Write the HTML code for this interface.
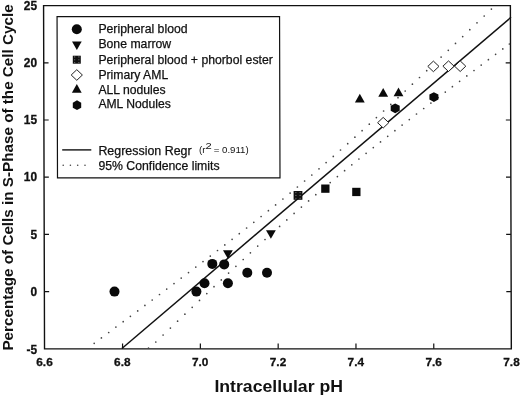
<!DOCTYPE html>
<html><head><meta charset="utf-8"><title>Intracellular pH vs S-Phase</title>
<style>html,body{margin:0;padding:0;background:#fff}svg{display:block}text{font-family:"Liberation Sans",Arial,sans-serif;fill:#111}.b{font-weight:bold}</style></head><body>
<svg width="520" height="397" viewBox="0 0 520 397">
<rect width="520" height="397" fill="#fff"/>
<g transform="matrix(1 0 0.00277 1 -0.49 0)">
<rect x="44.05" y="5.65" width="466.8" height="343.2" fill="none" stroke="#111" stroke-width="1.4"/>
<path d="M44.05 62.8h4.8M510.8 62.8h-4.8M44.05 120.0h4.8M510.8 120.0h-4.8M44.05 177.2h4.8M510.8 177.2h-4.8M44.05 234.4h4.8M510.8 234.4h-4.8M44.05 291.6h4.8M510.8 291.6h-4.8M122.1 348.8v-5.2M199.9 348.8v-5.2M277.7 348.8v-5.2M355.5 348.8v-5.2M433.3 348.8v-5.2" stroke="#111" stroke-width="1.2" fill="none"/>
<rect x="57.5" y="16.7" width="222.5" height="161.1" fill="#fff" stroke="#111" stroke-width="1.2"/>
</g>
<text class="b" x="37.1" y="9.8" font-size="11.9" stroke="#111" stroke-width="0.3" text-anchor="end">25</text>
<text class="b" x="37.1" y="67.0" font-size="11.9" stroke="#111" stroke-width="0.3" text-anchor="end">20</text>
<text class="b" x="37.1" y="124.2" font-size="11.9" stroke="#111" stroke-width="0.3" text-anchor="end">15</text>
<text class="b" x="37.1" y="181.4" font-size="11.9" stroke="#111" stroke-width="0.3" text-anchor="end">10</text>
<text class="b" x="37.1" y="238.6" font-size="11.9" stroke="#111" stroke-width="0.3" text-anchor="end">5</text>
<text class="b" x="37.1" y="295.8" font-size="11.9" stroke="#111" stroke-width="0.3" text-anchor="end">0</text>
<text class="b" x="37.1" y="353.7" font-size="11.9" stroke="#111" stroke-width="0.3" text-anchor="end">-5</text>
<text class="b" x="44.5" y="366.4" font-size="11.8" stroke="#111" stroke-width="0.3" text-anchor="middle">6.6</text>
<text class="b" x="122.3" y="366.4" font-size="11.8" stroke="#111" stroke-width="0.3" text-anchor="middle">6.8</text>
<text class="b" x="200.2" y="366.4" font-size="11.8" stroke="#111" stroke-width="0.3" text-anchor="middle">7.0</text>
<text class="b" x="278.0" y="366.4" font-size="11.8" stroke="#111" stroke-width="0.3" text-anchor="middle">7.2</text>
<text class="b" x="355.8" y="366.4" font-size="11.8" stroke="#111" stroke-width="0.3" text-anchor="middle">7.4</text>
<text class="b" x="433.6" y="366.4" font-size="11.8" stroke="#111" stroke-width="0.3" text-anchor="middle">7.6</text>
<text class="b" x="511.5" y="366.4" font-size="11.8" stroke="#111" stroke-width="0.3" text-anchor="middle">7.8</text>
<text class="b" x="214.4" y="392.3" font-size="16.2" textLength="128.6" lengthAdjust="spacingAndGlyphs">Intracellular pH</text>
<text class="b" transform="translate(12.6 350.6) rotate(-90)" font-size="15.1" textLength="346.3" lengthAdjust="spacingAndGlyphs">Percentage of Cells in S-Phase of the Cell Cycle</text>
<line x1="121.9" y1="348.5" x2="511" y2="17.3" stroke="#111" stroke-width="1.5"/>
<path d="M94.2 343.3h0M101.4 337.9h0M108.7 332.5h0M115.9 327.1h0M123.2 321.7h0M130.4 316.3h0M137.7 310.9h0M144.9 305.4h0M152.2 300.0h0M159.5 294.5h0M166.7 289.1h0M174.0 283.6h0M181.2 278.1h0M188.5 272.6h0M195.8 267.1h0M203.0 261.6h0M210.3 256.1h0M217.5 250.5h0M224.8 244.9h0M232.1 239.3h0M239.3 233.7h0M246.6 228.0h0M253.8 222.3h0M261.1 216.5h0M268.4 210.7h0M275.6 204.9h0M282.9 199.0h0M290.1 193.1h0M297.4 187.0h0M304.6 181.0h0M311.8 175.0h0M319.0 168.8h0M326.1 162.6h0M333.3 156.4h0M340.5 150.0h0M347.7 143.7h0M354.9 137.2h0M362.1 130.7h0M369.3 124.2h0M376.4 117.6h0M383.6 111.0h0M390.8 104.4h0M398.0 97.7h0M405.2 91.0h0M412.4 84.2h0M419.5 77.5h0M426.7 70.7h0M433.9 63.9h0M441.1 57.1h0M448.3 50.3h0M455.5 43.4h0M462.7 36.6h0M469.8 29.7h0M477.0 22.8h0M484.2 16.0h0M491.4 9.1h0M148.5 348.2h0M155.8 342.0h0M163.1 335.0h0M170.4 328.1h0M177.6 321.2h0M184.9 314.2h0M192.2 307.3h0M199.5 300.4h0M206.8 293.6h0M214.0 286.7h0M221.3 279.9h0M228.6 273.1h0M235.9 266.3h0M243.2 259.5h0M250.4 252.8h0M257.7 246.1h0M265.0 239.5h0M272.3 232.9h0M279.6 226.4h0M286.8 219.9h0M294.1 213.4h0M301.4 207.1h0M308.6 200.9h0M315.8 194.7h0M323.0 188.6h0M330.2 182.6h0M337.4 176.6h0M344.6 170.7h0M351.8 164.8h0M358.9 159.0h0M366.1 153.3h0M373.3 147.6h0M380.5 141.9h0M387.7 136.3h0M394.9 130.7h0M402.1 125.1h0M409.3 119.6h0M416.5 114.0h0M423.7 108.5h0M430.9 103.1h0M438.1 97.6h0M445.3 92.1h0M452.4 86.7h0M459.6 81.3h0M466.8 75.9h0M474.0 70.5h0M481.2 65.1h0M488.4 59.7h0M495.6 54.3h0M502.8 48.9h0M509.4 44.0h0" stroke="#444" stroke-width="1.7" stroke-linecap="round" fill="none"/>
<circle cx="114.5" cy="291.6" r="5.0" fill="#0a0a0a"/>
<circle cx="196.4" cy="291.6" r="5.0" fill="#0a0a0a"/>
<circle cx="204.5" cy="283.3" r="5.0" fill="#0a0a0a"/>
<circle cx="212.3" cy="263.9" r="5.0" fill="#0a0a0a"/>
<circle cx="224.2" cy="264.4" r="5.0" fill="#0a0a0a"/>
<circle cx="227.9" cy="283.3" r="5.0" fill="#0a0a0a"/>
<circle cx="247.3" cy="272.7" r="5.0" fill="#0a0a0a"/>
<circle cx="267.0" cy="272.7" r="5.0" fill="#0a0a0a"/>
<path d="M223.0 250.3h9.8l-4.9 8.5z" fill="#0a0a0a"/>
<path d="M266.0 230.2h9.8l-4.9 8.5z" fill="#0a0a0a"/>
<rect x="293.6" y="191.0" width="8.8" height="8.8" fill="#111"/><path d="M295.9 192.6h0M295.9 195.4h0M295.9 198.2h0M300.1 192.6h0M300.1 195.4h0M300.1 198.2h0" stroke="#fff" stroke-opacity=".5" stroke-width="1.15" stroke-linecap="round" fill="none"/>
<rect x="321.2" y="184.5" width="8.3" height="8.3" fill="#0a0a0a"/>
<rect x="352.2" y="187.8" width="8.3" height="8.3" fill="#0a0a0a"/>
<path d="M377.6 122.7L383.2 117.4L388.8 122.7L383.2 128.0z" fill="#fff" stroke="#222" stroke-width="1"/>
<path d="M427.8 66.4L433.4 61.1L439.0 66.4L433.4 71.7z" fill="#fff" stroke="#222" stroke-width="1"/>
<path d="M442.9 66.2L448.5 60.9L454.1 66.2L448.5 71.5z" fill="#fff" stroke="#222" stroke-width="1"/>
<path d="M454.6 66.2L460.2 60.9L465.8 66.2L460.2 71.5z" fill="#fff" stroke="#222" stroke-width="1"/>
<path d="M354.9 102.5h9.8l-4.9 -8.7z" fill="#0a0a0a"/>
<path d="M378.3 96.8h9.8l-4.9 -8.7z" fill="#0a0a0a"/>
<path d="M393.6 96.3h9.8l-4.9 -8.7z" fill="#0a0a0a"/>
<path d="M395.2 103.4L390.7 105.8L390.7 110.8L395.2 113.2L399.7 110.8L399.7 105.8z" fill="#0a0a0a"/>
<path d="M433.9 92.2L429.4 94.6L429.4 99.5L433.9 102.0L438.4 99.5L438.4 94.6z" fill="#0a0a0a"/>
<circle cx="76.8" cy="29.3" r="5.0" fill="#0a0a0a"/>
<path d="M72.0 41.6h9.7l-4.85 8.3z" fill="#0a0a0a"/>
<rect x="72.8" y="55.7" width="8.0" height="8.0" fill="#111"/><path d="M74.7 56.9h0M74.7 59.7h0M74.7 62.5h0M78.9 56.9h0M78.9 59.7h0M78.9 62.5h0" stroke="#fff" stroke-opacity=".5" stroke-width="1.15" stroke-linecap="round" fill="none"/>
<path d="M71.2 75.0L76.8 69.7L82.4 75.0L76.8 80.3z" fill="#fff" stroke="#222" stroke-width="1"/>
<path d="M71.9 92.8h9.8l-4.9 -8.7z" fill="#0a0a0a"/>
<path d="M77.0 100.3L72.8 102.8L72.8 107.7L77.0 110.1L81.2 107.7L81.2 102.8z" fill="#0a0a0a"/>
<line x1="62.2" y1="149.9" x2="91.3" y2="149.9" stroke="#111" stroke-width="1.4"/>
<path d="M63.2 165.2h0M70.4 165.2h0M77.7 165.2h0M85 165.2h0" stroke="#444" stroke-width="1.6" stroke-linecap="round"/>
<text x="98.4" y="33.2" font-size="11.9" stroke="#111" stroke-width="0.25" textLength="89.2" lengthAdjust="spacingAndGlyphs">Peripheral blood</text>
<text x="98.4" y="48.3" font-size="11.9" stroke="#111" stroke-width="0.25" textLength="72.8" lengthAdjust="spacingAndGlyphs">Bone marrow</text>
<text x="98.4" y="63.5" font-size="11.9" stroke="#111" stroke-width="0.25" textLength="174.4" lengthAdjust="spacingAndGlyphs">Peripheral blood + phorbol ester</text>
<text x="98.4" y="78.8" font-size="11.9" stroke="#111" stroke-width="0.25" textLength="69.8" lengthAdjust="spacingAndGlyphs">Primary AML</text>
<text x="98.4" y="93.6" font-size="11.9" stroke="#111" stroke-width="0.25" textLength="67.3" lengthAdjust="spacingAndGlyphs">ALL nodules</text>
<text x="98.4" y="108.4" font-size="11.9" stroke="#111" stroke-width="0.25" textLength="72.5" lengthAdjust="spacingAndGlyphs">AML Nodules</text>
<text x="98.4" y="154.9" font-size="11.9" stroke="#111" stroke-width="0.25" textLength="93.2" lengthAdjust="spacingAndGlyphs">Regression Regr</text>
<text x="98.4" y="169.8" font-size="11.9" stroke="#111" stroke-width="0.25" textLength="121.2" lengthAdjust="spacingAndGlyphs">95% Confidence limits</text>
<text x="199" y="152.9" font-size="9" textLength="6.5" lengthAdjust="spacingAndGlyphs">(r</text>
<text x="205.6" y="148.8" font-size="9.6" textLength="6.2" lengthAdjust="spacingAndGlyphs">2</text>
<text x="213.7" y="152.9" font-size="9" textLength="35" lengthAdjust="spacingAndGlyphs">= 0.911)</text>
</svg></body></html>
